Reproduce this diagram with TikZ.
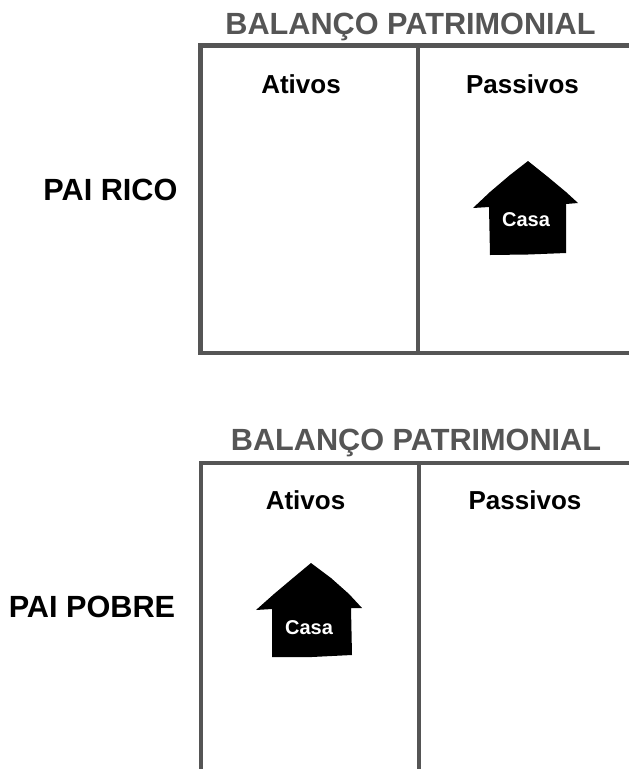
\documentclass[tikz,border=0pt]{standalone}
\usepackage{fontspec}
\setmainfont{Liberation Sans}
\definecolor{framegray}{RGB}{85,85,85}
\tikzset{every picture/.style={line width=0.75pt}}
\tikzset{
	framelines/.style={draw=framegray,line width=3.3pt,line cap=butt},
	housefill/.style={fill=black,draw=none},
	sheettitle/.style={text=framegray,font=\fontsize{23}{26}\selectfont\bfseries},
	colhead/.style={text=black,font=\fontsize{19.5}{23}\selectfont\bfseries},
	rowhead/.style={text=black,font=\fontsize{23}{26}\selectfont\bfseries},
	houselabel/.style={text=white,font=\fontsize{15}{18}\selectfont\bfseries}
}
\begin{document}
\begin{tikzpicture}[x=0.75pt,y=0.75pt,yscale=-1,xscale=1]
		\clip (0,0) rectangle (629,769);
		
		%Shape: Top frame
		\draw [framelines]  (635,45.5) -- (200.5,45.5) -- (200.5,353) -- (635,353) ;
		%Straight Lines: Top divider
		\draw [framelines]  (418,44) -- (418,354.5) ;
		%Shape: Bottom frame
		\draw [framelines]  (635,463) -- (201,463) -- (201,772) ;
		%Straight Lines: Bottom divider
		\draw [framelines]  (419,461.5) -- (419,772) ;
		
		%Shape: Top house
		\fill [housefill]  (528,161) -- (548,177) -- (566,192) -- (578,203) -- (566,204) -- (566,253) -- (528,254.5) -- (490,255) -- (489,207) -- (473,208) -- (490,192) -- (510,175) -- cycle ;
		%Shape: Bottom house
		\fill [housefill]  (311,563) -- (331,578) -- (349,594) -- (362,608) -- (351,608) -- (352,655) -- (312,657) -- (272,657) -- (272,609) -- (256,610) -- (274,594) -- (293,578) -- cycle ;
		
		% Text Node
		\draw (410.5,27) node [sheettitle] (titlerico) {BALANÇO PATRIMONIAL};
		% Text Node
		\draw (301,84) node [colhead] (ativosrico) {Ativos};
		% Text Node
		\draw (522.5,84) node [colhead] (passivosrico) {Passivos};
		% Text Node
		\draw (110.5,190) node [rowhead] (pairico) {PAI RICO};
		% Text Node
		\draw (526,220) node [houselabel] (casarico) {Casa};
		% Text Node
		\draw (416,443) node [sheettitle] (titlepobre) {BALANÇO PATRIMONIAL};
		% Text Node
		\draw (305.5,500) node [colhead] (ativospobre) {Ativos};
		% Text Node
		\draw (525,500) node [colhead] (passivospobre) {Passivos};
		% Text Node
		\draw (92,607) node [rowhead] (paipobre) {PAI POBRE};
		% Text Node
		\draw (309,628) node [houselabel] (casapobre) {Casa};
\end{tikzpicture}
\end{document}
